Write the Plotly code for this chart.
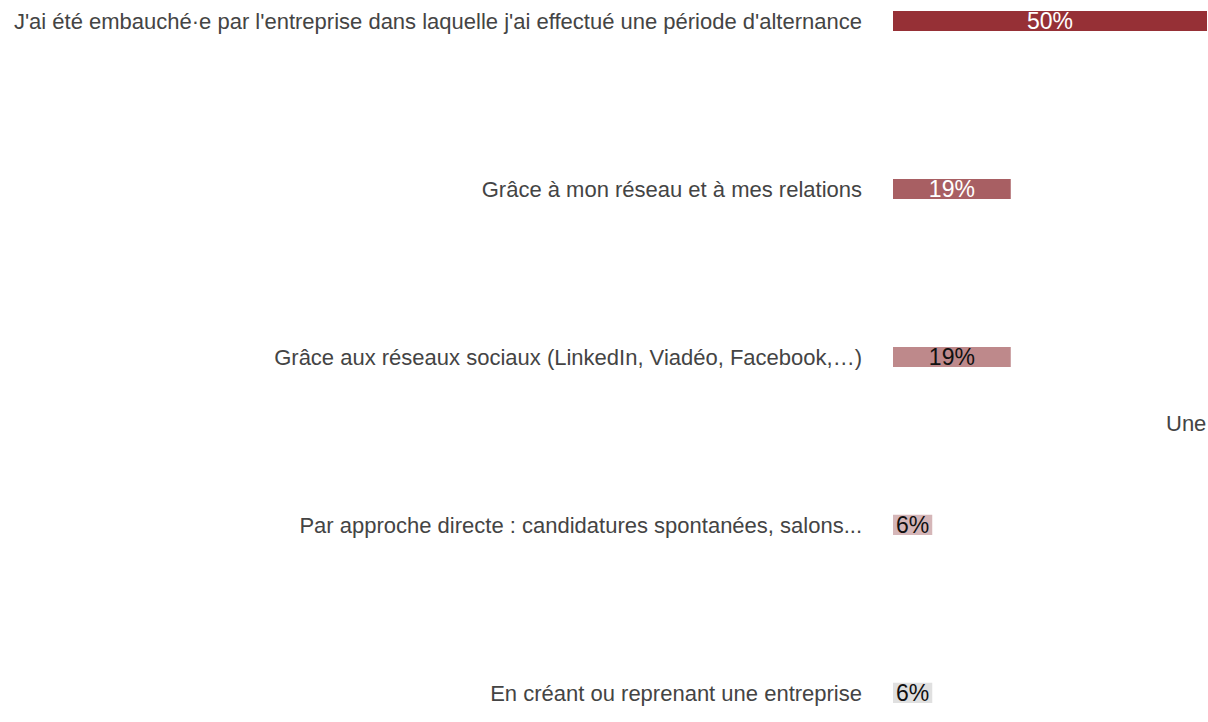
import plotly.graph_objects as go

categories = [
    "J'ai été embauché·e par l'entreprise dans laquelle j'ai effectué une période d'alternance",
    "Grâce à mon réseau et à mes relations",
    "Grâce aux réseaux sociaux (LinkedIn, Viadéo, Facebook,…)",
    "Par approche directe : candidatures spontanées, salons...",
    "En créant ou reprenant une entreprise",
]
values = [50.0, 18.75, 18.75, 6.25, 6.25]
labels = ["50%", "19%", "19%", "6%", "6%"]
colors = ["#963036", "#a85f63", "#be898b", "#d5b6b8", "#e0e0e0"]
text_colors = ["#ffffff", "#ffffff", "#111111", "#111111", "#111111"]
positions = list(range(len(categories)))

fig = go.Figure(
    go.Bar(
        x=values,
        y=positions,
        orientation="h",
        width=0.12,
        marker=dict(color=colors, line=dict(width=0)),
        text=labels,
        textposition="inside",
        insidetextanchor="middle",
        constraintext="none",
        textfont=dict(size=23, color=text_colors, family="Liberation Sans, Arial, sans-serif"),
        hoverinfo="skip",
    )
)

fig.update_layout(
    width=1208,
    height=722,
    margin=dict(l=893, r=0, t=0, b=0),
    paper_bgcolor="white",
    plot_bgcolor="white",
    showlegend=False,
    font=dict(family="Liberation Sans, Arial, sans-serif", size=22, color="#444"),
    xaxis=dict(range=[0, 50.16], visible=False, fixedrange=True),
    yaxis=dict(
        range=[4.173, -0.125],
        tickvals=positions,
        ticktext=categories,
        showgrid=False,
        zeroline=False,
        showline=False,
        ticks="",
        ticklabelstandoff=30,
        tickfont=dict(size=22, color="#444"),
        fixedrange=True,
    ),
    annotations=[
        dict(
            text="Une",
            xref="paper",
            yref="paper",
            x=1.0,
            y=0.414,
            xanchor="right",
            yanchor="middle",
            showarrow=False,
            font=dict(size=22, color="#444"),
        )
    ],
)

fig.write_html("out.html")
